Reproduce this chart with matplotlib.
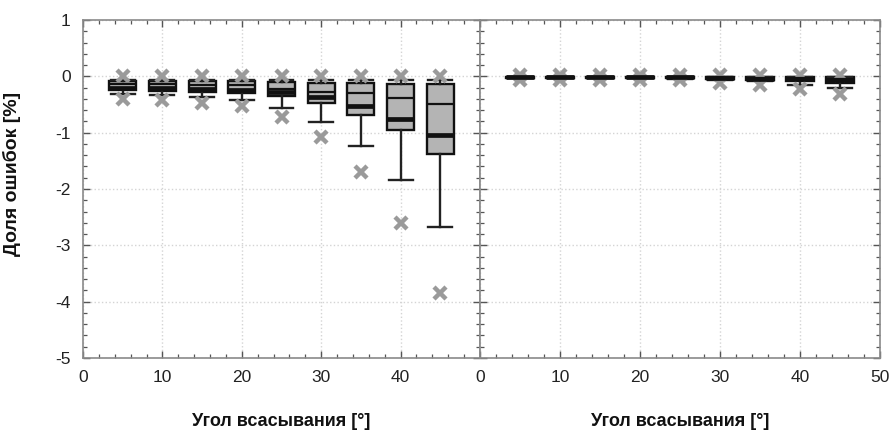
import matplotlib
matplotlib.use("Agg")
import matplotlib.pyplot as plt
from matplotlib.ticker import MultipleLocator

# Suction angle positions (degrees)
angles = [5, 10, 15, 20, 25, 30, 35, 40, 45]

# Left panel: error share [%]
left_whishi = [-0.07, -0.07, -0.07, -0.07, -0.07, -0.07, -0.07, -0.07, -0.06]
left_q3     = [-0.08, -0.08, -0.09, -0.09, -0.10, -0.12, -0.12, -0.13, -0.14]
left_median = [-0.13, -0.14, -0.15, -0.16, -0.23, -0.27, -0.30, -0.39, -0.49]
left_mean   = [-0.20, -0.20, -0.22, -0.24, -0.28, -0.37, -0.52, -0.75, -1.05]
left_q1     = [-0.25, -0.26, -0.27, -0.30, -0.35, -0.47, -0.68, -0.96, -1.37]
left_whislo = [-0.31, -0.33, -0.37, -0.42, -0.56, -0.81, -1.23, -1.84, -2.68]
left_max    = [0.0, 0.0, 0.0, 0.0, 0.0, 0.0, 0.0, 0.0, 0.0]
left_min    = [-0.41, -0.42, -0.47, -0.53, -0.72, -1.08, -1.70, -2.61, -3.84]

# Right panel: error share [%]
right_whishi = [-0.005, -0.005, -0.005, -0.005, -0.005, -0.01, -0.01, -0.01, -0.01]
right_q3     = [-0.005, -0.005, -0.005, -0.005, -0.005, -0.01, -0.01, -0.01, -0.01]
right_median = [-0.015, -0.015, -0.015, -0.015, -0.015, -0.02, -0.03, -0.03, -0.04]
right_mean   = [-0.02, -0.02, -0.02, -0.02, -0.02, -0.03, -0.04, -0.05, -0.06]
right_q1     = [-0.03, -0.03, -0.03, -0.03, -0.03, -0.05, -0.07, -0.09, -0.11]
right_whislo = [-0.035, -0.035, -0.035, -0.035, -0.04, -0.06, -0.09, -0.15, -0.20]
right_max    = [0.02, 0.02, 0.02, 0.02, 0.02, 0.02, 0.03, 0.03, 0.03]
right_min    = [-0.06, -0.06, -0.06, -0.06, -0.07, -0.11, -0.16, -0.23, -0.32]

x_ticks = [0, 10, 20, 30, 40, 50]
y_ticks = [1, 0, -1, -2, -3, -4, -5]
x_label = "Угол всасывания [°]"
y_label = "Доля ошибок [%]"

W, H = 889, 430
fig = plt.figure(figsize=(W / 100, H / 100), dpi=100)

ax_l = fig.add_axes([83 / W, 1 - 358 / H, 397 / W, 338 / H])
ax_r = fig.add_axes([480 / W, 1 - 358 / H, 400 / W, 338 / H])

frame_col = "#8a8a8a"


def make_stats(whishi, q3, med, mean, q1, whislo, vmax, vmin):
    stats = []
    for i in range(len(angles)):
        stats.append(dict(whishi=whishi[i], q3=q3[i], med=med[i], mean=mean[i],
                          q1=q1[i], whislo=whislo[i], fliers=[vmax[i], vmin[i]]))
    return stats


def draw_panel(ax, stats, show_ylabels, xlabels):
    ax.bxp(stats, positions=angles, widths=3.4, capwidths=3.0,
           patch_artist=True, showmeans=True, meanline=True,
           boxprops=dict(facecolor="#b4b4b4", edgecolor="#111111", linewidth=1.7),
           whiskerprops=dict(color="#222222", linewidth=1.7),
           capprops=dict(color="#222222", linewidth=1.7),
           medianprops=dict(color="#111111", linewidth=1.6),
           meanprops=dict(color="#111111", linewidth=3.4, linestyle="-"),
           flierprops=dict(marker="x", markeredgecolor="#9a9a9a",
                           markersize=9, markeredgewidth=3.2, linestyle="none"),
           manage_ticks=False, zorder=3)
    ax.set_xlim(0, 50)
    ax.set_ylim(-5, 1)
    ax.set_xticks(x_ticks)
    ax.set_xticklabels([str(t) if t in xlabels else "" for t in x_ticks])
    ax.set_yticks(y_ticks)
    ax.set_yticklabels([str(t) for t in y_ticks] if show_ylabels else [])
    ax.xaxis.set_minor_locator(MultipleLocator(2))
    ax.yaxis.set_minor_locator(MultipleLocator(0.2))
    ax.tick_params(which="both", direction="in", top=True, right=True,
                   color="#555555", labelsize=12.5, labelcolor="#222222", pad=9)
    ax.tick_params(which="major", length=5, width=1)
    ax.tick_params(which="minor", length=3, width=0.9)
    for lab in ax.get_xticklabels() + ax.get_yticklabels():
        lab.set_family(["Liberation Sans", "DejaVu Sans"])
    ax.grid(True, which="major", color="#d4d4d4", linestyle=":", linewidth=1.0, zorder=0)
    ax.set_axisbelow(True)
    for sp in ax.spines.values():
        sp.set_color(frame_col)
        sp.set_linewidth(1.2)
    ax.set_xlabel(x_label, family=["Liberation Sans", "DejaVu Sans"],
                  fontweight="bold", fontsize=13, labelpad=20, color="#111111")


draw_panel(ax_l, make_stats(left_whishi, left_q3, left_median, left_mean,
                            left_q1, left_whislo, left_max, left_min),
           True, [0, 10, 20, 30, 40])
draw_panel(ax_r, make_stats(right_whishi, right_q3, right_median, right_mean,
                            right_q1, right_whislo, right_max, right_min),
           False, [0, 10, 20, 30, 40, 50])

ax_l.set_ylabel(y_label, family=["Liberation Sans", "DejaVu Sans"],
                fontweight="bold", fontsize=14, color="#111111")
ax_l.yaxis.set_label_coords(-0.155, 0.544)

fig.savefig("out.png", dpi=100, facecolor="white")
